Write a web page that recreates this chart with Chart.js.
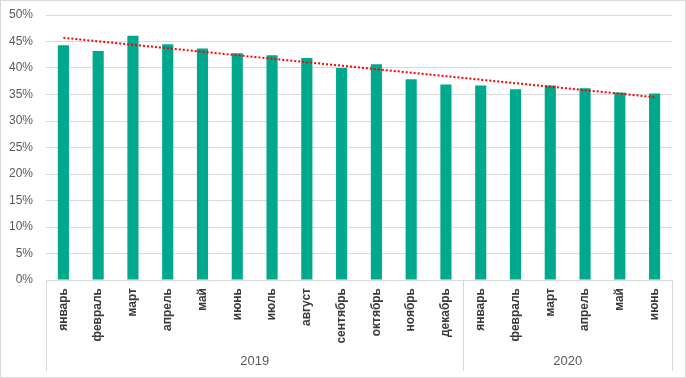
<!DOCTYPE html>
<html><head><meta charset="utf-8">
<script src="https://cdn.jsdelivr.net/npm/chart.js@4.4.1/dist/chart.umd.min.js"></script>
<style>html,body{margin:0;padding:0;background:#fff}#w{width:686px;height:378px}</style>
</head><body><div id="w"><canvas id="c" width="686" height="378"></canvas></div>
<script>
const months = ['январь','февраль','март','апрель','май','июнь','июль','август','сентябрь','октябрь','ноябрь','декабрь','январь','февраль','март','апрель','май','июнь'];
const years = ['2019','2020'];
const yearCounts = [12, 6];
const values = [44.3, 43.2, 46.1, 44.5, 43.7, 42.8, 42.4, 41.9, 40.0, 40.7, 37.9, 36.9, 36.7, 36.0, 36.7, 36.2, 35.4, 35.2];
const trend = [45.7, null, null, null, null, null, null, null, null, null, null, null, null, null, null, null, null, 34.5];
const yTicksMax = 50, yTickStep = 5;

const groupPlugin = {
  id: 'groups',
  afterDraw(chart) {
    const ctx = chart.ctx, x = chart.scales.x, ca = chart.chartArea;
    ctx.save();
    ctx.strokeStyle = '#d9d9d9'; ctx.lineWidth = 1;
    ctx.strokeRect(0.5, 0.5, chart.width - 1, chart.height - 1);
    const top = ca.bottom, bottom = 371;
    let start = 0;
    const bounds = [ca.left];
    yearCounts.forEach((n, i) => {
      const end = start + n - 1;
      let right;
      if (i === yearCounts.length - 1) right = ca.right;
      else right = (x.getPixelForValue(end) + x.getPixelForValue(end + 1)) / 2;
      bounds.push(right);
      start += n;
    });
    bounds.forEach(b => {
      const bx = Math.round(b) + 0.5;
      ctx.beginPath(); ctx.moveTo(bx, top); ctx.lineTo(bx, bottom); ctx.stroke();
    });
    ctx.fillStyle = '#595959';
    ctx.font = '13px "Liberation Sans", Arial, sans-serif';
    ctx.textAlign = 'center'; ctx.textBaseline = 'middle';
    years.forEach((y, i) => {
      ctx.fillText(y, (bounds[i] + bounds[i + 1]) / 2, 361);
    });
    ctx.restore();
  }
};

new Chart(document.getElementById('c'), {
  data: {
    labels: months,
    datasets: [
      { type: 'line', data: trend, spanGaps: true, borderColor: '#ff0000', borderWidth: 2, borderDash: [2, 2], pointRadius: 0, fill: false, order: 0 },
      { type: 'bar', data: values, backgroundColor: '#00a88e', barPercentage: 0.32, categoryPercentage: 1, order: 1 }
    ]
  },
  options: {
    responsive: false, animation: false, devicePixelRatio: 1,
    layout: { padding: { left: 0, right: 14, top: 15, bottom: 32 } },
    plugins: { legend: { display: false }, tooltip: { enabled: false } },
    scales: {
      x: {
        offset: true,
        grid: { display: false, drawTicks: false },
        border: { display: true, color: '#d9d9d9', width: 1 },
        ticks: { minRotation: 90, maxRotation: 90, autoSkip: false, padding: 8, color: '#3a3a3a',
          font: { family: '"Liberation Sans", Arial, sans-serif', size: 12, weight: 'bold' } },
        afterFit(s) { s.height = 66; s.paddingLeft = 0; s.paddingRight = 0; }
      },
      y: {
        min: 0, max: yTicksMax,
        grid: { color: '#d9d9d9', lineWidth: 1, drawTicks: false },
        border: { display: false },
        ticks: { stepSize: yTickStep, padding: 13, color: '#595959',
          font: { family: '"Liberation Sans", Arial, sans-serif', size: 12 },
          callback: v => v + '%' },
        afterFit(s) { s.width = 46; s.paddingTop = 0; s.paddingBottom = 0; }
      }
    }
  },
  plugins: [groupPlugin]
});
</script>
</body></html>
